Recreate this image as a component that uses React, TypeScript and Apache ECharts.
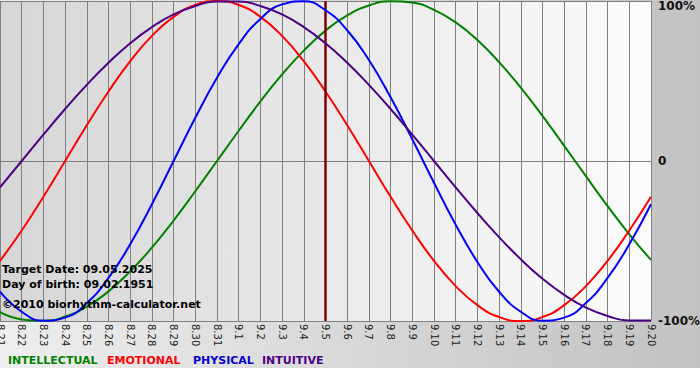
import React, { useEffect, useRef } from "react";
import * as echarts from "echarts";

const dayLabels = [
  "8.21", "8.22", "8.23", "8.24", "8.25", "8.26", "8.27", "8.28", "8.29", "8.30", "8.31",
  "9.1", "9.2", "9.3", "9.4", "9.5", "9.6", "9.7", "9.8", "9.9", "9.10",
  "9.11", "9.12", "9.13", "9.14", "9.15", "9.16", "9.17", "9.18", "9.19", "9.20",
];

const intellectual = [
  -94.5, -99.0, -99.9, -97.2, -91.0, -81.5, -69.0, -54.1, -37.2, -18.9, 0,
  18.9, 37.2, 54.1, 69.0, 81.5, 91.0, 97.2, 99.9, 99.0, 94.5,
  86.6, 75.6, 61.8, 45.8, 28.2, 9.5, -9.5, -28.2, -45.8, -61.8,
];

const emotional = [
  -62.4, -43.4, -22.3, 0, 22.3, 43.4, 62.4, 78.2, 90.1, 97.5, 100,
  97.5, 90.1, 78.2, 62.4, 43.4, 22.3, 0, -22.3, -43.4, -62.4,
  -78.2, -90.1, -97.5, -100, -97.5, -90.1, -78.2, -62.4, -43.4, -22.3,
];

const physical = [
  -81.7, -94.2, -99.8, -97.9, -88.8, -73.1, -52.0, -27.0, 0, 27.0, 52.0,
  73.1, 88.8, 97.9, 99.8, 94.2, 81.7, 63.1, 39.8, 13.6, -13.6,
  -39.8, -63.1, -81.7, -94.2, -99.8, -97.9, -88.8, -73.1, -52.0, -27.0,
];

const intuitive = [
  -16.5, 0, 16.5, 32.5, 47.6, 61.4, 73.6, 83.7, 91.6, 96.9, 99.7,
  99.7, 96.9, 91.6, 83.7, 73.6, 61.4, 47.6, 32.5, 16.5, 0,
  -16.5, -32.5, -47.6, -61.4, -73.6, -83.7, -91.6, -96.9, -99.7, -99.7,
];

const seriesNames = ["INTELLECTUAL", "EMOTIONAL", "PHYSICAL", "INTUITIVE"];
const seriesColors = ["#008000", "#ff0000", "#0000ff", "#4b0082"];
const legendColors = ["#008000", "#ff0000", "#0000cc", "#4b0082"];
const targetDay = "9.5";
const infoLines = ["Target Date: 09.05.2025", "Day of birth: 09.02.1951", "©2010 biorhythm-calculator.net"];

export default function App() {
  const ref = useRef<HTMLDivElement>(null);

  useEffect(() => {
    if (!ref.current) return;
    const chart = echarts.init(ref.current, undefined, { renderer: "svg" });
    const seriesData = [intellectual, emotional, physical, intuitive];
    const font = "DejaVu Sans, Verdana, sans-serif";

    const legendX = [8, 107, 193, 262];

    chart.setOption({
      animation: false,
      backgroundColor: "#ffffff",
      grid: {
        left: 0,
        right: 49,
        top: 1,
        bottom: 59,
        outerBoundsMode: "none",
        containLabel: false,
        show: true,
        borderWidth: 0,
        backgroundColor: new echarts.graphic.LinearGradient(0, 0, 1, 0, [
          { offset: 0, color: "#d6d6d6" },
          { offset: 1, color: "#fcfcfc" },
        ]),
      },
      xAxis: {
        type: "category",
        data: dayLabels,
        boundaryGap: false,
        axisLine: { show: true, lineStyle: { color: "#808080", width: 1 } },
        axisTick: { show: true, length: 3, lineStyle: { color: "#808080" } },
        axisLabel: {
          rotate: -90,
          interval: 0,
          fontSize: 10,
          fontFamily: font,
          color: "#222",
          margin: 3,
          hideOverlap: false,
        },
        splitLine: { show: true, lineStyle: { color: "#808080", width: 1 } },
      },
      yAxis: {
        type: "value",
        position: "right",
        min: -100,
        max: 100,
        interval: 100,
        axisLine: { show: false },
        axisTick: { show: false },
        splitLine: { show: true, lineStyle: { color: "#808080", width: 1 } },
        axisLabel: {
          margin: 7,
          fontSize: 12,
          fontWeight: "bold",
          fontFamily: font,
          color: "#111",
          formatter: (v: number) => (v === 100 ? "{t|100%}" : v === 0 ? "0" : v + "%"),
          rich: {
            t: { padding: [10, 0, 0, 0], fontSize: 12, fontWeight: "bold", fontFamily: font, color: "#111" },
          },
        },
      },
      series: seriesNames.map((name, i) => ({
        name,
        type: "line",
        data: seriesData[i],
        smooth: true,
        showSymbol: false,
        lineStyle: { color: seriesColors[i], width: 2 },
        itemStyle: { color: seriesColors[i] },
        z: 3 + i,
        markLine:
          i === 0
            ? {
                silent: true,
                symbol: "none",
                label: { show: false },
                lineStyle: { color: "#800000", width: 2.5, type: "solid" },
                data: [{ xAxis: targetDay }],
              }
            : undefined,
      })),
      graphic: [
        {
          type: "rect",
          z: -10,
          shape: { x: 0, y: 0, width: 700, height: 368 },
          style: {
            fill: new echarts.graphic.LinearGradient(0, 0, 1, 0, [
              { offset: 0, color: "#eeeeee" },
              { offset: 1, color: "#c2c2c2" },
            ]),
          },
        },
        ...infoLines.map((t, i) => ({
          type: "text",
          z: 100,
          left: 2,
          top: [264, 279, 299][i],
          style: { text: t, fill: "#000", font: `bold 11px ${font}` },
        })),
        ...seriesNames.map((n, i) => ({
          type: "text",
          z: 100,
          left: legendX[i],
          top: 355,
          style: { text: n, fill: legendColors[i], font: `bold 11px ${font}` },
        })),
      ],
    });
    return () => chart.dispose();
  }, []);

  return (
    <div
      ref={ref}
      style={{ position: "fixed", left: 0, top: 0, width: 700, height: 380 }}
    />
  );
}
